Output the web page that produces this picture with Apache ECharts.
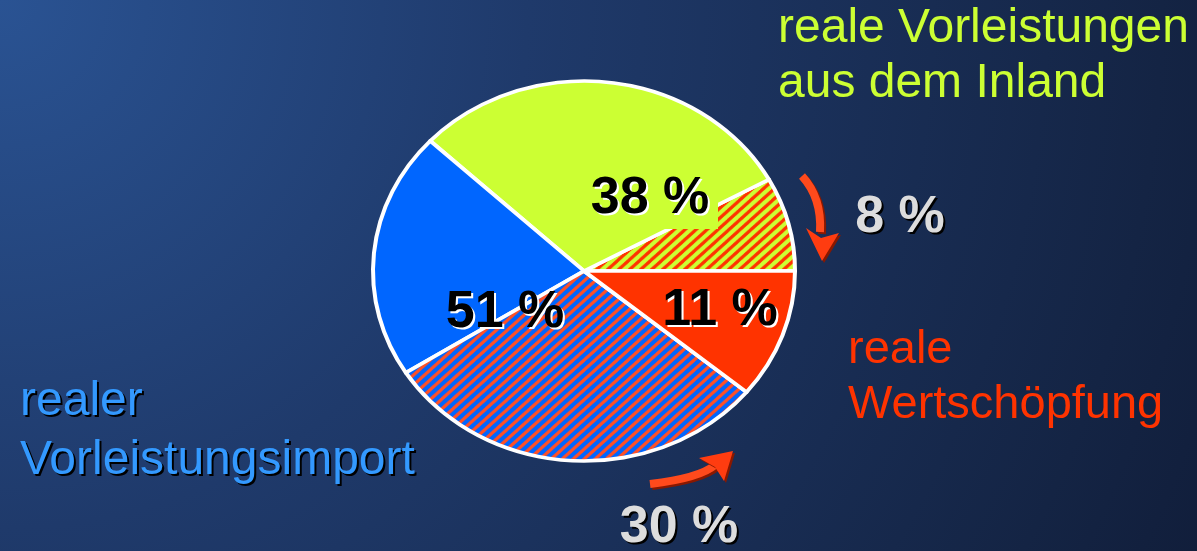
<!DOCTYPE html>
<html><head><meta charset="utf-8">
<script src="https://cdn.jsdelivr.net/npm/echarts@6/dist/echarts.min.js"></script>
<style>html,body{margin:0;padding:0;background:#1c3564;}#c{width:1197px;height:551px;}</style>
</head><body><div id="c"></div>
<script>
// ---- data ----
const groupNames = ['reale Vorleistungen aus dem Inland', 'realer Vorleistungsimport', 'reale Wertschöpfung'];
const groupShares = [38, 51, 11];            // % of production value
const valueAddedInInputs = [8, 30];           // value-added share embedded in domestic / imported inputs
const sliceNames = ['Inland (Wertschöpfungsanteil)', 'Inland', 'Import', 'Import (Wertschöpfungsanteil)', 'Wertschöpfung'];
const sliceValues = [8, 30, 21, 30, 11];      // counter-clockwise from 3 o'clock
const sliceStyles = ['hatchGreen', 'green', 'blue', 'hatchBlue', 'red'];

// ---- styling ----
const GREEN = '#ccff33', BLUE = '#0066ff', RED = '#ff3300';
const FONT = '"Liberation Sans", Arial, sans-serif';

function hatch(base, line) {
  const p = 11, c = document.createElement('canvas');
  c.width = p; c.height = p;
  const g = c.getContext('2d');
  g.fillStyle = base; g.fillRect(0, 0, p, p);
  g.strokeStyle = line; g.lineWidth = 3.4;
  for (let k = -p; k <= 2 * p; k += p) {
    g.beginPath(); g.moveTo(k + p + 3, -3); g.lineTo(k - 3, p + 3); g.stroke();
  }
  return { image: c, repeat: 'repeat' };
}
const fills = {
  green: GREEN, blue: BLUE, red: RED,
  hatchGreen: hatch(GREEN, '#ff3300'),
  hatchBlue: hatch(BLUE, '#ff5026')
};

const CX = 584, CY = 271, RX = 211, RY = 190;
const total = sliceValues.reduce((a, b) => a + b, 0);

const chart = echarts.init(document.getElementById('c'), null, { renderer: 'canvas' });

function txt(text, x, y, size, color, opts) {
  opts = opts || {};
  const font = (opts.bold ? 'bold ' : '') + size + 'px ' + FONT;
  const out = [];
  if (opts.shadow) {
    out.push({ type: 'text', x: x + 2, y: y + 2, z: 10,
      style: { text: text, fill: opts.shadow, font: font, textAlign: opts.align || 'left', textVerticalAlign: 'middle' } });
  }
  out.push({ type: 'text', x: x, y: y, z: 11,
    style: { text: text, fill: color, font: font, textAlign: opts.align || 'left', textVerticalAlign: 'middle' } });
  return out;
}

function arrow(pts, head) {
  return [
    { type: 'bezierCurve', z: 8,
      shape: { x1: pts[0], y1: pts[1], cpx1: pts[2], cpy1: pts[3], x2: pts[4], y2: pts[5] },
      style: { stroke: '#ff4a1c', lineWidth: 8, fill: null, shadowColor: '#8a1800', shadowOffsetX: 2, shadowOffsetY: 2, shadowBlur: 0 } },
    { type: 'polygon', z: 9, shape: { points: head },
      style: { fill: '#ff3c10', shadowColor: '#8a1800', shadowOffsetX: 2, shadowOffsetY: 2, shadowBlur: 0 } }
  ];
}

chart.setOption({
  animation: false,
  backgroundColor: new echarts.graphic.RadialGradient(0, 0, 1320, [
    { offset: 0, color: '#2a5393' },
    { offset: 0.4, color: '#1f3a6b' },
    { offset: 0.88, color: '#142444' },
    { offset: 1, color: '#111e3b' }
  ], true),
  series: [{
    type: 'custom',
    coordinateSystem: 'none',
    silent: true,
    data: sliceValues.map((v, i) => ({ name: sliceNames[i], value: v })),
    renderItem: function (params, api) {
      const i = params.dataIndex;
      let acc = 0;
      for (let k = 0; k < i; k++) acc += sliceValues[k];
      const a0 = acc / total * Math.PI * 2;
      const a1 = (acc + api.value(0)) / total * Math.PI * 2;
      return {
        type: 'sector', x: CX, y: CY, scaleX: 1, scaleY: RY / RX,
        shape: { cx: 0, cy: 0, r: RX, r0: 0, startAngle: -a0, endAngle: -a1, clockwise: false },
        style: { fill: fills[sliceStyles[i]], stroke: '#ffffff', lineWidth: 4, strokeNoScale: true, lineJoin: 'round' }
      };
    }
  }],
  graphic: [].concat(
    // label box behind the domestic share
    [{ type: 'rect', z: 9, shape: { x: 584, y: 172, width: 134, height: 57 }, style: { fill: GREEN } }],
    // category texts
    txt('reale Vorleistungen', 778, 28.5, 48, GREEN),
    txt('aus dem Inland', 778, 83.5, 48, GREEN),
    txt('realer', 20, 401.5, 48, '#3399ff', { shadow: '#000000' }),
    txt('Vorleistungsimport', 20, 460.5, 48, '#3399ff', { shadow: '#000000' }),
    txt('reale', 848, 350.5, 47, RED),
    txt('Wertschöpfung', 848, 405.5, 47, RED),
    // share labels
    txt(groupShares[0] + ' %', 650, 199, 52, '#000000', { bold: true, align: 'center', shadow: '#ffffff' }),
    txt(groupShares[1] + ' %', 505, 313, 52, '#000000', { bold: true, align: 'center', shadow: '#ffffff' }),
    txt(groupShares[2] + ' %', 720, 311, 52, '#000000', { bold: true, align: 'center', shadow: '#ffffff' }),
    txt(valueAddedInInputs[0] + ' %', 900, 218, 52, '#dddddd', { bold: true, align: 'center', shadow: '#000000' }),
    txt(valueAddedInInputs[1] + ' %', 679, 528, 52, '#dddddd', { bold: true, align: 'center', shadow: '#000000' }),
    arrow([802, 176, 822, 198, 820, 232], [[806, 228], [822, 261], [839, 233], [821, 238]]),
    arrow([650, 484, 700, 478, 715, 465], [[699, 458], [733, 451], [724, 481], [715, 467]])
  )
});
</script>
</body></html>
